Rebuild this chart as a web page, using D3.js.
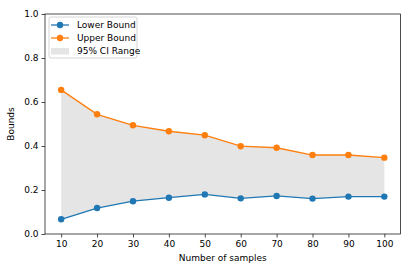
<!DOCTYPE html>
<html>
<head>
<meta charset="utf-8">
<script src="https://d3js.org/d3.v7.min.js"></script>
<style>
  body { margin: 0; background: #fff; }
  svg { display: block; font-family: "DejaVu Sans", sans-serif; }
</style>
</head>
<body>
<svg width="411" height="274"></svg>
<script>
(function() {
    'use strict';
    var samples = [10, 20, 30, 40, 50, 60, 70, 80, 90, 100];
    var lowerBound = [0.067, 0.118, 0.149, 0.165, 0.180, 0.162, 0.173, 0.161, 0.170, 0.170];
    var upperBound = [0.655, 0.544, 0.494, 0.467, 0.449, 0.399, 0.392, 0.359, 0.359, 0.347];
    var yTicks = [0.0, 0.2, 0.4, 0.6, 0.8, 1.0];
    var legendLabels = ["Lower Bound", "Upper Bound", "95% CI Range"];

    var blue = "#1f77b4", orange = "#ff7f0e", band = "#e5e5e5";
    var svg = d3.select("svg");
    var left = 45, right = 400.5, top = 14, bottom = 234;

    var x = d3.scaleLinear().domain([5.5, 104.5]).range([left, right]);
    var y = d3.scaleLinear().domain([0, 1]).range([bottom, top]);

    var rows = samples.map(function(s, i) {
        return { n: s, lo: lowerBound[i], hi: upperBound[i] };
    });

    svg.append("path")
        .datum(rows)
        .attr("fill", band)
        .attr("d", d3.area()
            .x(function(d) { return x(d.n); })
            .y0(function(d) { return y(d.lo); })
            .y1(function(d) { return y(d.hi); }));

    function series(key, color) {
        var line = d3.line()
            .x(function(d) { return x(d.n); })
            .y(function(d) { return y(d[key]); });
        svg.append("path")
            .datum(rows)
            .attr("fill", "none")
            .attr("stroke", color)
            .attr("stroke-width", 1.3)
            .attr("d", line);
        svg.append("g").selectAll("circle")
            .data(rows)
            .enter().append("circle")
            .attr("cx", function(d) { return x(d.n); })
            .attr("cy", function(d) { return y(d[key]); })
            .attr("r", 3.2)
            .attr("fill", color);
    }
    series("lo", blue);
    series("hi", orange);

    // axes
    var xAxis = svg.append("g")
        .attr("transform", "translate(0," + bottom + ")")
        .call(d3.axisBottom(x).tickValues(samples).tickSize(3.5).tickPadding(3));
    var yAxis = svg.append("g")
        .attr("transform", "translate(" + left + ",0)")
        .call(d3.axisLeft(y).tickValues(yTicks).tickSize(3.5).tickPadding(3)
            .tickFormat(d3.format(".1f")));
    [xAxis, yAxis].forEach(function(a) {
        a.select(".domain").remove();
        a.selectAll("text").attr("font-size", 9).attr("font-family", "DejaVu Sans").attr("fill", "#000");
        a.selectAll("line").attr("stroke", "#000").attr("stroke-width", 0.7);
    });

    svg.append("rect")
        .attr("x", left).attr("y", top)
        .attr("width", right - left).attr("height", bottom - top)
        .attr("fill", "none").attr("stroke", "#000").attr("stroke-width", 0.7);

    svg.append("text")
        .attr("x", (left + right) / 2).attr("y", 261)
        .attr("text-anchor", "middle").attr("font-size", 9)
        .text("Number of samples");
    svg.append("text")
        .attr("transform", "translate(14," + ((top + bottom) / 2) + ") rotate(-90)")
        .attr("text-anchor", "middle").attr("font-size", 9)
        .text("Bounds");

    // legend
    var lg = svg.append("g").attr("transform", "translate(49,17)");
    lg.append("rect")
        .attr("width", 88).attr("height", 41).attr("rx", 2)
        .attr("fill", "#fff").attr("fill-opacity", 0.8)
        .attr("stroke", "#ccc").attr("stroke-width", 0.8);
    var item = lg.selectAll("g.item")
        .data(legendLabels)
        .enter().append("g")
        .attr("class", "item")
        .attr("transform", function(d, i) { return "translate(0," + (8 + i * 13) + ")"; });
    item.each(function(d, i) {
        var g = d3.select(this);
        if (i < 2) {
            var c = i === 0 ? blue : orange;
            g.append("line").attr("x1", 2).attr("x2", 20).attr("y1", 0).attr("y2", 0)
                .attr("stroke", c).attr("stroke-width", 1.3);
            g.append("circle").attr("cx", 11).attr("cy", 0).attr("r", 3.2).attr("fill", c);
        } else {
            g.append("rect").attr("x", 2).attr("y", -3).attr("width", 18).attr("height", 6.5)
                .attr("fill", band);
        }
        g.append("text").attr("x", 28).attr("y", 3.3).attr("font-size", 9).text(d);
    });
}());
</script>
</body>
</html>
